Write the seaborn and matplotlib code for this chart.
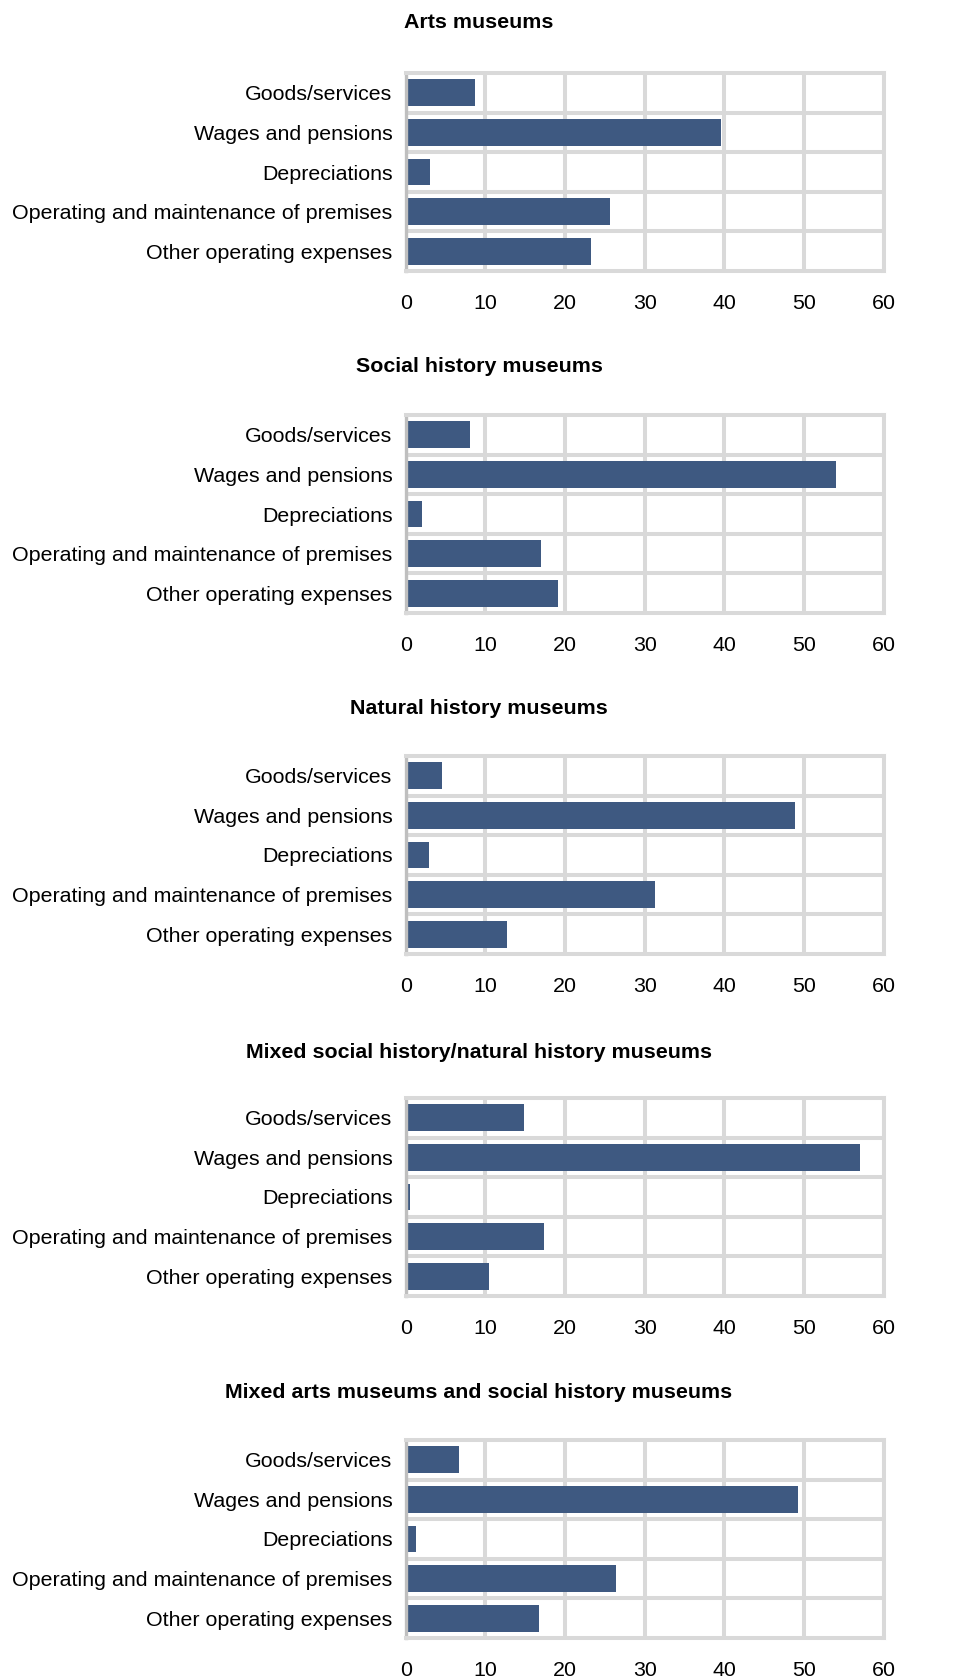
import matplotlib
matplotlib.use("Agg")
import matplotlib.pyplot as plt
import seaborn as sns
import pandas as pd

# Expense categories (top to bottom) and the share spent on each, per museum type
categories = [
    "Goods/services",
    "Wages and pensions",
    "Depreciations",
    "Operating and maintenance of premises",
    "Other operating expenses",
]

museum_types = [
    "Arts museums",
    "Social history museums",
    "Natural history museums",
    "Mixed social history/natural history museums",
    "Mixed arts museums and social history museums",
]

arts = [8.7, 39.6, 3.0, 25.6, 23.3]
social_history = [8.1, 54.0, 2.0, 17.0, 19.1]
natural_history = [4.6, 48.9, 2.9, 31.3, 12.7]
mixed_social_natural = [14.8, 57.1, 0.5, 17.4, 10.5]
mixed_arts_social = [6.7, 49.3, 1.3, 26.4, 16.7]

x_ticks = [0, 10, 20, 30, 40, 50, 60]

series = [arts, social_history, natural_history, mixed_social_natural, mixed_arts_social]

sns.set_theme(style="white")
plt.rcParams["font.family"] = ["Liberation Sans", "DejaVu Sans"]

BAR = "#3e5981"
GRID = "#d9d9d9"
AXIS = "#bfbfbf"
FS = 15.4

W, H = 958, 1680
fig = plt.figure(figsize=(W / 100, H / 100), dpi=100)

# panel layout in pixels: (top of plot area, title centre)
panel_tops = [73, 415, 756, 1098, 1440]
title_ys = [23, 367, 708, 1052, 1392]
plot_h = 198
left_px, right_px = 405.7, 883.5

for title, vals, top, ty in zip(museum_types, series, panel_tops, title_ys):
    ax = fig.add_axes([left_px / W, 1 - (top + plot_h) / H,
                       (right_px - left_px) / W, plot_h / H])
    df = pd.DataFrame({"category": categories, "share": vals})
    sns.barplot(data=df, x="share", y="category", ax=ax, color=BAR,
                saturation=1, width=0.68, linewidth=0, orient="h")
    ax.set_xlim(0, 60)
    ax.set_ylim(4.5, -0.5)
    ax.set_xticks(x_ticks)
    ax.set_xticklabels([str(t) for t in x_ticks])
    ax.set_yticks(range(len(categories)))
    ax.set_yticks([i + 0.5 for i in range(len(categories) - 1)], minor=True)
    ax.set_axisbelow(True)
    ax.grid(True, axis="x", which="major", color=GRID, linewidth=2.9)
    ax.grid(True, axis="y", which="minor", color=GRID, linewidth=2.9)
    ax.grid(False, axis="y", which="major")
    for side in ["top", "right", "bottom"]:
        ax.spines[side].set_visible(True)
        ax.spines[side].set_color(GRID)
        ax.spines[side].set_linewidth(2.9)
    ax.spines["left"].set_visible(True)
    ax.spines["left"].set_color(AXIS)
    ax.spines["left"].set_linewidth(2.4)
    ax.tick_params(axis="both", which="both", length=0)
    ax.tick_params(axis="x", labelsize=FS, pad=16.5, labelcolor="black")
    ax.tick_params(axis="y", labelsize=FS, pad=9.5, labelcolor="black")
    ax.set_xlabel("")
    ax.set_ylabel("")
    fig.text(0.5, 1 - ty / H, title, ha="center", va="center",
             fontsize=FS, fontweight="bold", color="black")

fig.savefig("out.png", dpi=100, facecolor="white")
